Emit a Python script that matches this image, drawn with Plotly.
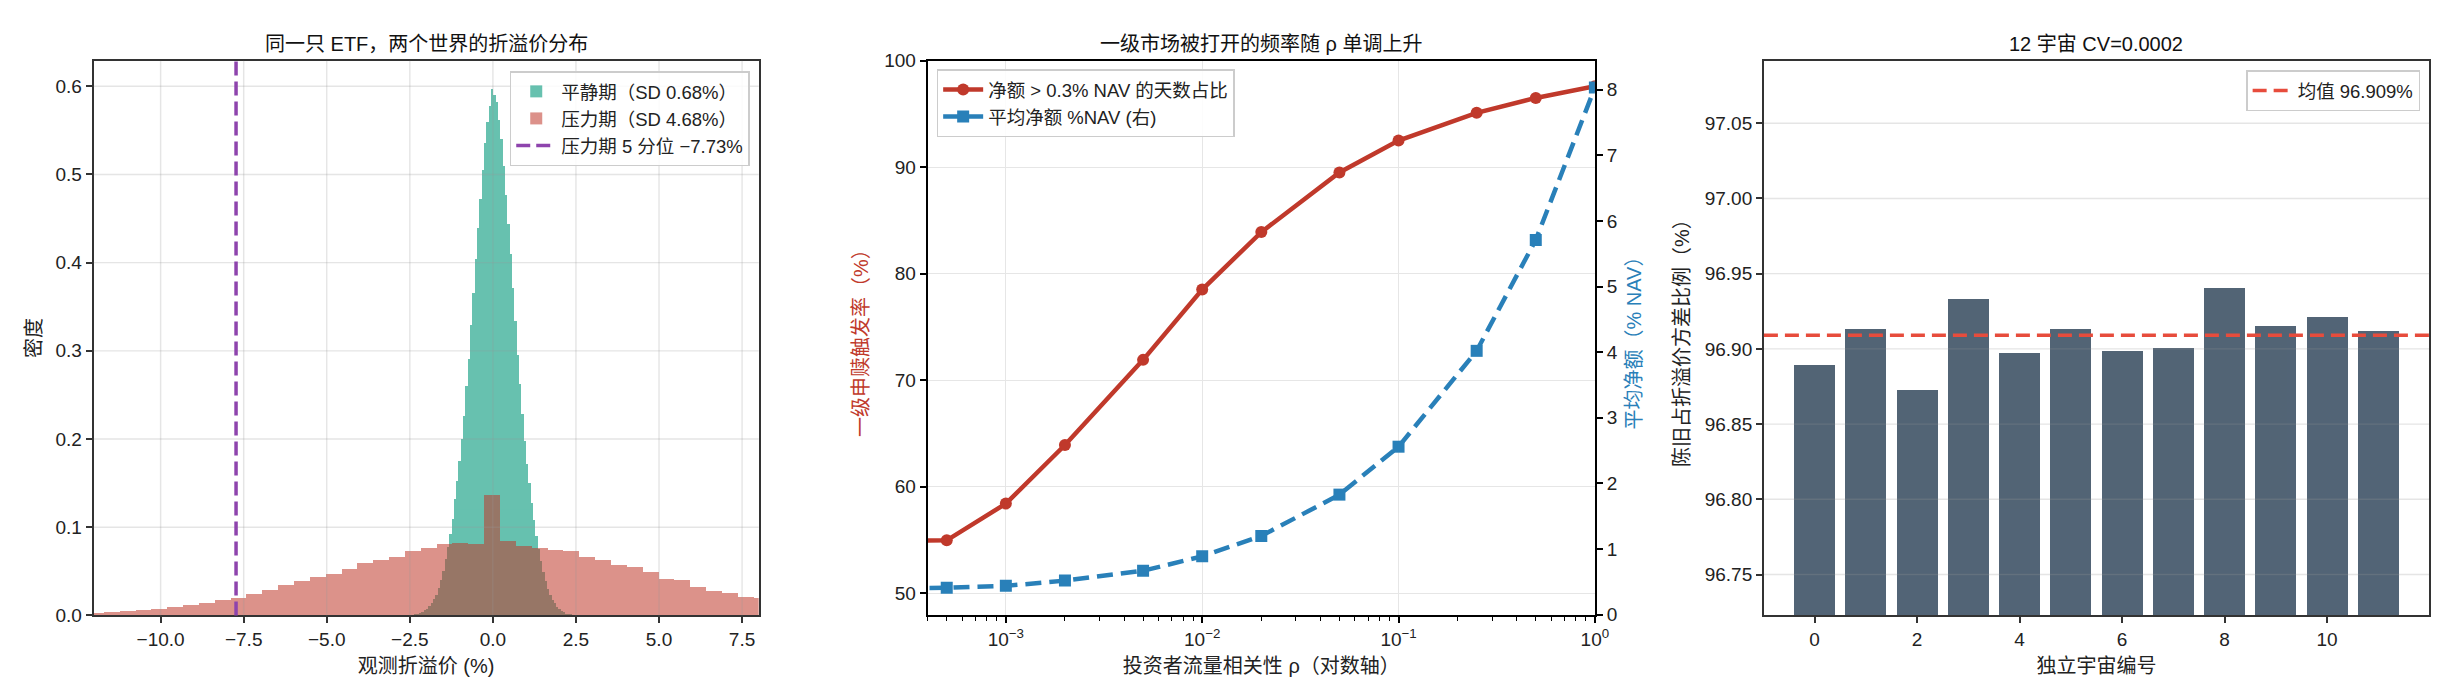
import math
import plotly.graph_objects as go

# ---------------- data ----------------
# panel 1: density histograms of observed premium/discount (%)
calm_lo, calm_w = -2.38, 0.07
calm_density = [
    0.001, 0.002, 0.003, 0.004, 0.006, 0.008, 0.011, 0.014, 0.019, 0.024,
    0.031, 0.040, 0.051, 0.064, 0.078, 0.093, 0.110, 0.132, 0.153, 0.175,
    0.200, 0.226, 0.260, 0.291, 0.330, 0.366, 0.405, 0.440, 0.473, 0.505,
    0.536, 0.560, 0.578, 0.597, 0.590, 0.582, 0.562, 0.540, 0.510, 0.477,
    0.444, 0.410, 0.372, 0.334, 0.296, 0.263, 0.229, 0.198, 0.172, 0.150,
    0.128, 0.108, 0.090, 0.076, 0.062, 0.050, 0.039, 0.030, 0.024, 0.018,
    0.014, 0.010, 0.0075, 0.0055, 0.004, 0.0025, 0.0015, 0.001,
]
stress_lo, stress_w = -12.202, 0.477
stress_density = [
    0.0026, 0.0037, 0.0051, 0.0063, 0.0077, 0.0096, 0.0118, 0.0147, 0.0184, 0.0206,
    0.0250, 0.0294, 0.0350, 0.0393, 0.0438, 0.0470, 0.0533, 0.0600, 0.0636, 0.0669,
    0.0735, 0.0768, 0.0813, 0.0820, 0.0813, 0.1364, 0.0846, 0.0790, 0.0768, 0.0746,
    0.0735, 0.0669, 0.0636, 0.0580, 0.0548, 0.0496, 0.0415, 0.0404, 0.0327, 0.0283,
    0.0261, 0.0217, 0.0199,
]
stress_q05 = -7.73
p1_xticks = [-10, -7.5, -5, -2.5, 0, 2.5, 5, 7.5]
p1_yticks = [0.0, 0.1, 0.2, 0.3, 0.4, 0.5, 0.6]

# panel 2: trigger frequency vs investor-flow correlation rho
rho = [1e-4, 5e-4, 1e-3, 2e-3, 5e-3, 1e-2, 2e-2, 5e-2, 0.1, 0.25, 0.5, 1.0]
trigger_pct = [54.9, 54.95, 58.4, 63.9, 71.9, 78.5, 83.9, 89.5, 92.5, 95.1, 96.5, 97.6]
avg_net_nav = [0.40, 0.41, 0.44, 0.52, 0.67, 0.89, 1.20, 1.83, 2.56, 4.02, 5.71, 8.03]
p2_xticks = [1e-3, 1e-2, 1e-1, 1.0]
p2_xticktext = ['10<sup>−3</sup>', '10<sup>−2</sup>', '10<sup>−1</sup>', '10<sup>0</sup>']
# minor log ticks: 2..9 within each decade shown
p2_minor = [k * 10.0 ** d for d in (-4, -3, -2, -1) for k in range(2, 10)]

# panel 3: stale share of premium variance across 12 universes
universe_id = list(range(12))
stale_share = [96.8894, 96.9134, 96.8726, 96.9334, 96.8978, 96.9134,
               96.8985, 96.9011, 96.9405, 96.9153, 96.9211, 96.9121]
p3_yticks = [96.75, 96.80, 96.85, 96.90, 96.95, 97.00, 97.05]

# ---------------- styling ----------------
FONT = 'Liberation Sans, Noto Sans CJK SC, sans-serif'
GREEN = '#16a085'
RED = '#c0392b'
BLUE = '#2980b9'
PURPLE = '#8e44ad'
SLATE = '#34495e'
MEAN_RED = '#e74c3c'
GRID = 'rgba(150,150,150,0.25)'
TICKFONT = dict(size=19, color='#222')
LABELFONT = dict(size=20, color='#222')

W, H = 2450, 696
def px_x(p):
    return p / W
def px_y(p):
    return 1 - p / H

dom1 = [px_x(86), px_x(755)]
dom2 = [px_x(925), px_x(1596)]
dom3 = [px_x(1766), px_x(2435)]
ydom = [px_y(616), px_y(44)]

calm_x = [calm_lo + calm_w * (i + 0.5) for i in range(len(calm_density))]
stress_x = [stress_lo + stress_w * (i + 0.5) for i in range(len(stress_density))]
mean_share = sum(stale_share) / len(stale_share)

fig = go.Figure()

fig.add_trace(go.Bar(
    x=calm_x, y=calm_density, width=calm_w,
    marker=dict(color=GREEN, line=dict(width=0)), opacity=0.65,
    name='平静期（SD 0.68%）', xaxis='x', yaxis='y', legend='legend'
))
fig.add_trace(go.Bar(
    x=stress_x, y=stress_density, width=stress_w,
    marker=dict(color=RED, line=dict(width=0)), opacity=0.55,
    name='压力期（SD 4.68%）', xaxis='x', yaxis='y', legend='legend'
))

fig.add_trace(go.Scatter(
    x=rho, y=trigger_pct, mode='lines+markers',
    line=dict(color=RED, width=4.5),
    marker=dict(symbol='circle', size=12, color=RED),
    name='净额 > 0.3% NAV 的天数占比', xaxis='x2', yaxis='y2', legend='legend2'
))
fig.add_trace(go.Scatter(
    x=rho, y=avg_net_nav, mode='lines+markers',
    line=dict(color=BLUE, width=4.5, dash='16px,8px'),
    marker=dict(symbol='square', size=12, color=BLUE),
    name='平均净额 %NAV (右)', xaxis='x2', yaxis='y3', legend='legend2'
))

fig.add_trace(go.Bar(
    x=universe_id, y=stale_share, width=0.8,
    marker=dict(color=SLATE, line=dict(width=0)), opacity=0.85,
    showlegend=False, xaxis='x3', yaxis='y4'
))

shapes = []
# grid lines drawn above the bars, like matplotlib
for v in p1_xticks:
    shapes.append(dict(type='line', xref='x', yref='y domain', x0=v, x1=v, y0=0, y1=1,
                       line=dict(color=GRID, width=1.4), layer='above'))
for v in p1_yticks[1:]:
    shapes.append(dict(type='line', xref='x domain', yref='y', x0=0, x1=1, y0=v, y1=v,
                       line=dict(color=GRID, width=1.4), layer='above'))
for v in p3_yticks:
    shapes.append(dict(type='line', xref='x3 domain', yref='y4', x0=0, x1=1, y0=v, y1=v,
                       line=dict(color=GRID, width=1.4), layer='above'))

shapes.append(dict(type='line', xref='x', yref='y domain', x0=stress_q05, x1=stress_q05,
                   y0=0, y1=1, line=dict(color=PURPLE, width=3.5, dash='14px,6px'),
                   layer='above', showlegend=True, legend='legend',
                   name='压力期 5 分位 −7.73%'))
shapes.append(dict(type='line', xref='x3 domain', yref='y4', x0=0, x1=1,
                   y0=mean_share, y1=mean_share,
                   line=dict(color=MEAN_RED, width=3.5, dash='14px,7px'),
                   layer='above', showlegend=True, legend='legend3',
                   name='均值 96.909%'))

axis_common = dict(ticks='outside', ticklen=6, tickwidth=1.6, tickcolor='#333',
                   showline=True, linecolor='#333', linewidth=1.7, mirror=True,
                   zeroline=False, tickfont=TICKFONT)

legend_common = dict(bgcolor='rgba(255,255,255,0.85)', bordercolor='#cccccc', borderwidth=1.5,
                     font=dict(size=18.5, color='#222', family=FONT), itemwidth=40,
                     tracegroupgap=0)

titles = [
    (dom1, '同一只 ETF，两个世界的折溢价分布'),
    (dom2, '一级市场被打开的频率随 ρ 单调上升'),
    (dom3, '12 宇宙 CV=0.0002'),
]
annotations = [dict(text=t, xref='paper', yref='paper', x=(d[0] + d[1]) / 2, y=px_y(27),
                    xanchor='center', yanchor='middle', showarrow=False,
                    font=dict(size=20, color='#111'))
               for d, t in titles]

fig.update_layout(
    width=W, height=H,
    margin=dict(l=0, r=0, t=0, b=0),
    paper_bgcolor='white', plot_bgcolor='white',
    font=dict(family=FONT, color='#222'),
    barmode='overlay', bargap=0,
    shapes=shapes,
    annotations=annotations,
    xaxis=dict(domain=dom1, anchor='y', range=[-12.02, 8.0], tickvals=p1_xticks,
               tickformat='.1f', showgrid=False, layer='above traces',
               title=dict(text='观测折溢价 (%)', font=LABELFONT, standoff=10), **axis_common),
    yaxis=dict(domain=ydom, anchor='x', range=[0, 0.629], tickvals=p1_yticks,
               tickformat='.1f', showgrid=False, layer='above traces',
               title=dict(text='密度', font=LABELFONT, standoff=8), **axis_common),
    xaxis2=dict(domain=dom2, anchor='y2', type='log', range=[math.log10(4e-4), 0],
                tickvals=p2_xticks, ticktext=p2_xticktext,
                showgrid=True, gridcolor='#e6e6e6', gridwidth=1.3,
                minor=dict(tickmode='array', tickvals=p2_minor, ticks='outside',
                           ticklen=3.5, tickwidth=1.2, tickcolor='#000', showgrid=False),
                title=dict(text='投资者流量相关性 ρ（对数轴）', font=LABELFONT, standoff=10),
                ticks='outside', ticklen=6, tickwidth=1.6, tickcolor='#000',
                showline=True, linecolor='#000', linewidth=2, mirror=True,
                zeroline=False, tickfont=TICKFONT),
    yaxis2=dict(domain=ydom, anchor='x2', range=[47.9, 100], dtick=10,
                showgrid=True, gridcolor='#e6e6e6', gridwidth=1.3,
                title=dict(text='一级申赎触发率（%）', font=dict(size=20, color=RED), standoff=10),
                ticks='outside', ticklen=6, tickwidth=1.6, tickcolor='#000',
                showline=True, linecolor='#000', linewidth=2, mirror=True,
                zeroline=False, tickfont=TICKFONT),
    yaxis3=dict(overlaying='y2', anchor='x2', side='right', range=[-0.01, 8.44], dtick=1,
                showgrid=False,
                title=dict(text='平均净额（% NAV）', font=dict(size=20, color=BLUE), standoff=10),
                ticks='outside', ticklen=6, tickwidth=1.6, tickcolor='#000',
                showline=True, linecolor='#000', linewidth=2,
                zeroline=False, tickfont=TICKFONT),
    xaxis3=dict(domain=dom3, anchor='y4', range=[-0.99, 11.99], tickvals=[0, 2, 4, 6, 8, 10],
                showgrid=False, layer='above traces',
                title=dict(text='独立宇宙编号', font=LABELFONT, standoff=10), **axis_common),
    yaxis4=dict(domain=ydom, anchor='x3', range=[96.7228, 97.0916], tickvals=p3_yticks,
                tickformat='.2f', showgrid=False, layer='above traces',
                title=dict(text='陈旧占折溢价方差比例（%）', font=LABELFONT, standoff=10),
                **axis_common),
    legend=dict(x=px_x(746), y=px_y(55), xanchor='right', yanchor='top', **legend_common),
    legend2=dict(x=px_x(934), y=px_y(53), xanchor='left', yanchor='top', **legend_common),
    legend3=dict(x=px_x(2426), y=px_y(54), xanchor='right', yanchor='top', **legend_common),
)

fig.write_html('out.html')
